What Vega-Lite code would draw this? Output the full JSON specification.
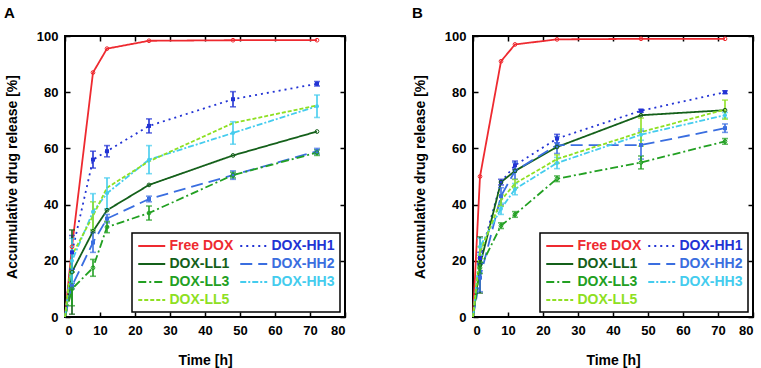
{
"$schema": "https://vega.github.io/schema/vega-lite/v6.json",
"padding": {"left": 3, "top": 5, "right": 0, "bottom": 0},
"bounds": "flush",
"spacing": 128,
"resolve": {"scale": {"color": "independent", "strokeDash": "independent", "shape": "independent"}, "legend": {"color": "independent", "strokeDash": "independent", "shape": "independent"}},
"data": {"values": [
{"p":"A","s":"Free DOX","t":0,"y":0,"e":0},{"p":"A","s":"Free DOX","t":2,"y":25,"e":0},{"p":"A","s":"Free DOX","t":8,"y":87,"e":0},{"p":"A","s":"Free DOX","t":12,"y":95.5,"e":0},{"p":"A","s":"Free DOX","t":24,"y":98.3,"e":0},{"p":"A","s":"Free DOX","t":48,"y":98.5,"e":0},{"p":"A","s":"Free DOX","t":72,"y":98.5,"e":0},
{"p":"A","s":"DOX-HH1","t":0,"y":0,"e":0},{"p":"A","s":"DOX-HH1","t":2,"y":23,"e":6},{"p":"A","s":"DOX-HH1","t":8,"y":56,"e":3},{"p":"A","s":"DOX-HH1","t":12,"y":59,"e":2},{"p":"A","s":"DOX-HH1","t":24,"y":68,"e":2.5},{"p":"A","s":"DOX-HH1","t":48,"y":77.5,"e":2.7},{"p":"A","s":"DOX-HH1","t":72,"y":83,"e":0.8},
{"p":"A","s":"DOX-LL1","t":0,"y":0,"e":0},{"p":"A","s":"DOX-LL1","t":2,"y":16,"e":15},{"p":"A","s":"DOX-LL1","t":8,"y":30.5,"e":0},{"p":"A","s":"DOX-LL1","t":12,"y":38,"e":0},{"p":"A","s":"DOX-LL1","t":24,"y":47,"e":0},{"p":"A","s":"DOX-LL1","t":48,"y":57.5,"e":0},{"p":"A","s":"DOX-LL1","t":72,"y":66,"e":0},
{"p":"A","s":"DOX-HH2","t":0,"y":0,"e":0},{"p":"A","s":"DOX-HH2","t":2,"y":11,"e":1},{"p":"A","s":"DOX-HH2","t":8,"y":26.5,"e":3.5},{"p":"A","s":"DOX-HH2","t":12,"y":35,"e":1.5},{"p":"A","s":"DOX-HH2","t":24,"y":42,"e":1},{"p":"A","s":"DOX-HH2","t":48,"y":50.5,"e":1.5},{"p":"A","s":"DOX-HH2","t":72,"y":59,"e":1},
{"p":"A","s":"DOX-LL3","t":0,"y":0,"e":0},{"p":"A","s":"DOX-LL3","t":2,"y":10,"e":6},{"p":"A","s":"DOX-LL3","t":8,"y":17.5,"e":3},{"p":"A","s":"DOX-LL3","t":12,"y":32,"e":2},{"p":"A","s":"DOX-LL3","t":24,"y":37,"e":2.5},{"p":"A","s":"DOX-LL3","t":48,"y":50.5,"e":1},{"p":"A","s":"DOX-LL3","t":72,"y":58.5,"e":1},
{"p":"A","s":"DOX-HH3","t":0,"y":0,"e":0},{"p":"A","s":"DOX-HH3","t":2,"y":20,"e":8},{"p":"A","s":"DOX-HH3","t":8,"y":37.5,"e":6.4},{"p":"A","s":"DOX-HH3","t":12,"y":44,"e":5.5},{"p":"A","s":"DOX-HH3","t":24,"y":56,"e":5},{"p":"A","s":"DOX-HH3","t":48,"y":65.5,"e":4},{"p":"A","s":"DOX-HH3","t":72,"y":75,"e":4},
{"p":"A","s":"DOX-LL5","t":0,"y":0,"e":0},{"p":"A","s":"DOX-LL5","t":2,"y":22,"e":0},{"p":"A","s":"DOX-LL5","t":8,"y":36,"e":5},{"p":"A","s":"DOX-LL5","t":12,"y":46,"e":0},{"p":"A","s":"DOX-LL5","t":24,"y":55.4,"e":0},{"p":"A","s":"DOX-LL5","t":48,"y":69,"e":0},{"p":"A","s":"DOX-LL5","t":72,"y":75.3,"e":0},
{"p":"B","s":"Free DOX","t":0,"y":0,"e":0},{"p":"B","s":"Free DOX","t":2,"y":50,"e":0},{"p":"B","s":"Free DOX","t":8,"y":91,"e":0},{"p":"B","s":"Free DOX","t":12,"y":97,"e":0},{"p":"B","s":"Free DOX","t":24,"y":98.8,"e":0},{"p":"B","s":"Free DOX","t":48,"y":99,"e":0},{"p":"B","s":"Free DOX","t":72,"y":99,"e":0},
{"p":"B","s":"DOX-HH1","t":0,"y":0,"e":0},{"p":"B","s":"DOX-HH1","t":2,"y":21,"e":2},{"p":"B","s":"DOX-HH1","t":8,"y":48,"e":1},{"p":"B","s":"DOX-HH1","t":12,"y":54,"e":1.5},{"p":"B","s":"DOX-HH1","t":24,"y":63.5,"e":1.5},{"p":"B","s":"DOX-HH1","t":48,"y":73.4,"e":0.5},{"p":"B","s":"DOX-HH1","t":72,"y":80,"e":0.5},
{"p":"B","s":"DOX-LL1","t":0,"y":0,"e":0},{"p":"B","s":"DOX-LL1","t":2,"y":18.5,"e":10},{"p":"B","s":"DOX-LL1","t":8,"y":48,"e":0},{"p":"B","s":"DOX-LL1","t":12,"y":52,"e":0},{"p":"B","s":"DOX-LL1","t":24,"y":60.5,"e":0},{"p":"B","s":"DOX-LL1","t":48,"y":71.8,"e":0},{"p":"B","s":"DOX-LL1","t":72,"y":73.6,"e":0},
{"p":"B","s":"DOX-HH2","t":0,"y":0,"e":0},{"p":"B","s":"DOX-HH2","t":2,"y":14,"e":5},{"p":"B","s":"DOX-HH2","t":8,"y":43,"e":3},{"p":"B","s":"DOX-HH2","t":12,"y":52,"e":3},{"p":"B","s":"DOX-HH2","t":24,"y":61.2,"e":3},{"p":"B","s":"DOX-HH2","t":48,"y":61.2,"e":5},{"p":"B","s":"DOX-HH2","t":72,"y":67.2,"e":1.5},
{"p":"B","s":"DOX-LL3","t":0,"y":0,"e":0},{"p":"B","s":"DOX-LL3","t":2,"y":17.5,"e":2},{"p":"B","s":"DOX-LL3","t":8,"y":32.5,"e":1},{"p":"B","s":"DOX-LL3","t":12,"y":36.5,"e":1},{"p":"B","s":"DOX-LL3","t":24,"y":49.2,"e":1},{"p":"B","s":"DOX-LL3","t":48,"y":55,"e":2.3},{"p":"B","s":"DOX-LL3","t":72,"y":62.5,"e":1},
{"p":"B","s":"DOX-HH3","t":0,"y":0,"e":0},{"p":"B","s":"DOX-HH3","t":2,"y":25,"e":3},{"p":"B","s":"DOX-HH3","t":8,"y":38.5,"e":2},{"p":"B","s":"DOX-HH3","t":12,"y":45.5,"e":2},{"p":"B","s":"DOX-HH3","t":24,"y":54.8,"e":2},{"p":"B","s":"DOX-HH3","t":48,"y":64.9,"e":2},{"p":"B","s":"DOX-HH3","t":72,"y":71.8,"e":1},
{"p":"B","s":"DOX-LL5","t":0,"y":0,"e":0},{"p":"B","s":"DOX-LL5","t":2,"y":23,"e":2},{"p":"B","s":"DOX-LL5","t":8,"y":41.5,"e":2},{"p":"B","s":"DOX-LL5","t":12,"y":47.5,"e":1.5},{"p":"B","s":"DOX-LL5","t":24,"y":56.2,"e":1.5},{"p":"B","s":"DOX-LL5","t":48,"y":65.8,"e":5},{"p":"B","s":"DOX-LL5","t":72,"y":73.8,"e":3.4}
]},
"hconcat": [
{
"width": 280, "height": 281,
"title": {"text": "A", "anchor": "start", "frame": "group", "dx": -61, "offset": 9, "fontSize": 15, "fontWeight": "bold", "font": "Liberation Sans", "color": "black"},
"transform": [{"filter": "datum.p === 'A'"}],
"layer": [
{"mark": {"type": "line", "strokeWidth": 1.8},
 "encoding": {
  "x": {"field": "t", "type": "quantitative", "scale": {"domain": [0, 80], "nice": false}, "axis": {"title": "Time [h]", "values": [0,10,20,30,40,50,60,70,80]}},
  "y": {"field": "y", "type": "quantitative", "scale": {"domain": [0, 100], "nice": false}, "axis": {"title": "Accumulative drug release [%]", "values": [0,20,40,60,80,100]}},
  "color": {"field": "s", "type": "nominal", "scale": {"domain": ["Free DOX","DOX-HH1","DOX-LL1","DOX-HH2","DOX-LL3","DOX-HH3","DOX-LL5"], "range": ["#ee2a30","#2233d4","#14601a","#3a6ee0","#22a022","#44ccee","#8ee022"]},
   "legend": {"title": null, "orient": "bottom-right", "offset": 5, "columns": 2, "direction": "horizontal",
    "encode": {"labels": {"update": {"fill": {"signal": "datum.value==='Free DOX'?'#ee2a30':datum.value==='DOX-HH1'?'#2233d4':datum.value==='DOX-LL1'?'#14601a':datum.value==='DOX-HH2'?'#3a6ee0':datum.value==='DOX-LL3'?'#22a022':datum.value==='DOX-HH3'?'#44ccee':'#8ee022'"}}}}}},
  "strokeDash": {"field": "s", "type": "nominal", "scale": {"domain": ["Free DOX","DOX-HH1","DOX-LL1","DOX-HH2","DOX-LL3","DOX-HH3","DOX-LL5"], "range": [[1,0],[2,4],[1,0],[12,6],[8,3,2,3],[6,2,2,2],[4,2]]}, "legend": {"title": null, "orient": "bottom-right", "offset": 5, "columns": 2, "direction": "horizontal"}},
  "order": {"field": "t", "type": "quantitative"}
 }},
{"mark": {"type": "errorbar", "ticks": {"size": 6}, "thickness": 1.6},
 "transform": [{"filter": "datum.e > 0"}],
 "encoding": {
  "x": {"field": "t", "type": "quantitative", "axis": null},
  "y": {"field": "y", "type": "quantitative", "axis": null},
  "yError": {"field": "e"},
  "color": {"field": "s", "type": "nominal", "legend": null}
 }},
{"mark": {"type": "point", "size": 16, "filled": true, "opacity": 1},
 "transform": [{"filter": "datum.t > 0 && (datum.s === 'DOX-HH1' || datum.s === 'DOX-HH2' || datum.s === 'DOX-HH3')"}],
 "encoding": {
  "x": {"field": "t", "type": "quantitative", "axis": null},
  "y": {"field": "y", "type": "quantitative", "axis": null},
  "color": {"field": "s", "type": "nominal", "legend": null},
  "shape": {"field": "s", "type": "nominal", "scale": {"domain": ["DOX-HH1","DOX-HH2","DOX-HH3"], "range": ["square","square","circle"]}, "legend": null}
 }},
{"mark": {"type": "point", "size": 14, "filled": false, "strokeWidth": 1, "opacity": 1},
 "transform": [{"filter": "datum.t > 0 && (datum.s === 'Free DOX' || datum.s === 'DOX-LL1' || datum.s === 'DOX-LL3')"}],
 "encoding": {
  "x": {"field": "t", "type": "quantitative", "axis": null},
  "y": {"field": "y", "type": "quantitative", "axis": null},
  "color": {"field": "s", "type": "nominal", "legend": null}
 }},
{"mark": {"type": "point", "opacity": 0},
 "encoding": {
  "x": {"field": "t", "type": "quantitative", "axis": {"orient": "top", "labels": false, "title": null, "values": [0,10,20,30,40,50,60,70,80]}},
  "y": {"field": "y", "type": "quantitative", "axis": {"orient": "right", "labels": false, "title": null, "values": [0,20,40,60,80,100]}}
 }}
],
"resolve": {"axis": {"x": "independent", "y": "independent"}}
},
{
"width": 280, "height": 281,
"title": {"text": "B", "anchor": "start", "frame": "group", "dx": -61, "offset": 9, "fontSize": 15, "fontWeight": "bold", "font": "Liberation Sans", "color": "black"},
"transform": [{"filter": "datum.p === 'B'"}],
"layer": [
{"mark": {"type": "line", "strokeWidth": 1.8},
 "encoding": {
  "x": {"field": "t", "type": "quantitative", "scale": {"domain": [0, 80], "nice": false}, "axis": {"title": "Time [h]", "values": [0,10,20,30,40,50,60,70,80]}},
  "y": {"field": "y", "type": "quantitative", "scale": {"domain": [0, 100], "nice": false}, "axis": {"title": "Accumulative drug release [%]", "values": [0,20,40,60,80,100]}},
  "color": {"field": "s", "type": "nominal", "scale": {"domain": ["Free DOX","DOX-HH1","DOX-LL1","DOX-HH2","DOX-LL3","DOX-HH3","DOX-LL5"], "range": ["#ee2a30","#2233d4","#14601a","#3a6ee0","#22a022","#44ccee","#8ee022"]},
   "legend": {"title": null, "orient": "bottom-right", "offset": 5, "columns": 2, "direction": "horizontal",
    "encode": {"labels": {"update": {"fill": {"signal": "datum.value==='Free DOX'?'#ee2a30':datum.value==='DOX-HH1'?'#2233d4':datum.value==='DOX-LL1'?'#14601a':datum.value==='DOX-HH2'?'#3a6ee0':datum.value==='DOX-LL3'?'#22a022':datum.value==='DOX-HH3'?'#44ccee':'#8ee022'"}}}}}},
  "strokeDash": {"field": "s", "type": "nominal", "scale": {"domain": ["Free DOX","DOX-HH1","DOX-LL1","DOX-HH2","DOX-LL3","DOX-HH3","DOX-LL5"], "range": [[1,0],[2,4],[1,0],[12,6],[8,3,2,3],[6,2,2,2],[4,2]]}, "legend": {"title": null, "orient": "bottom-right", "offset": 5, "columns": 2, "direction": "horizontal"}},
  "order": {"field": "t", "type": "quantitative"}
 }},
{"mark": {"type": "errorbar", "ticks": {"size": 6}, "thickness": 1.6},
 "transform": [{"filter": "datum.e > 0"}],
 "encoding": {
  "x": {"field": "t", "type": "quantitative", "axis": null},
  "y": {"field": "y", "type": "quantitative", "axis": null},
  "yError": {"field": "e"},
  "color": {"field": "s", "type": "nominal", "legend": null}
 }},
{"mark": {"type": "point", "size": 16, "filled": true, "opacity": 1},
 "transform": [{"filter": "datum.t > 0 && (datum.s === 'DOX-HH1' || datum.s === 'DOX-HH2' || datum.s === 'DOX-HH3')"}],
 "encoding": {
  "x": {"field": "t", "type": "quantitative", "axis": null},
  "y": {"field": "y", "type": "quantitative", "axis": null},
  "color": {"field": "s", "type": "nominal", "legend": null},
  "shape": {"field": "s", "type": "nominal", "scale": {"domain": ["DOX-HH1","DOX-HH2","DOX-HH3"], "range": ["square","square","circle"]}, "legend": null}
 }},
{"mark": {"type": "point", "size": 14, "filled": false, "strokeWidth": 1, "opacity": 1},
 "transform": [{"filter": "datum.t > 0 && (datum.s === 'Free DOX' || datum.s === 'DOX-LL1' || datum.s === 'DOX-LL3')"}],
 "encoding": {
  "x": {"field": "t", "type": "quantitative", "axis": null},
  "y": {"field": "y", "type": "quantitative", "axis": null},
  "color": {"field": "s", "type": "nominal", "legend": null}
 }},
{"mark": {"type": "point", "opacity": 0},
 "encoding": {
  "x": {"field": "t", "type": "quantitative", "axis": {"orient": "top", "labels": false, "title": null, "values": [0,10,20,30,40,50,60,70,80]}},
  "y": {"field": "y", "type": "quantitative", "axis": {"orient": "right", "labels": false, "title": null, "values": [0,20,40,60,80,100]}}
 }}
],
"resolve": {"axis": {"x": "independent", "y": "independent"}}
}
],
"config": {
 "background": "white",
 "view": {"stroke": "black", "strokeWidth": 2},
 "axis": {"domain": false, "grid": false, "ticks": true, "tickSize": -5, "tickWidth": 1.5, "tickColor": "black",
  "labelFont": "Liberation Sans", "labelFontSize": 13, "labelFontWeight": "bold", "labelColor": "black", "labelPadding": 12,
  "titleFont": "Liberation Sans", "titleFontSize": 14, "titleFontWeight": "bold", "titleColor": "black"},
 "axisX": {"titlePadding": 16},
 "axisY": {"titlePadding": 17},
 "legend": {"strokeColor": "black", "strokeWidth": 1.5, "fillColor": "white", "padding": 5, "labelFont": "Liberation Sans", "labelFontSize": 14, "labelFontWeight": "bold",
  "symbolType": "M-1,0H3", "symbolSize": 182, "symbolStrokeWidth": 1.8, "rowPadding": 3, "columnPadding": 2, "labelOffset": 16.5}
}
}
